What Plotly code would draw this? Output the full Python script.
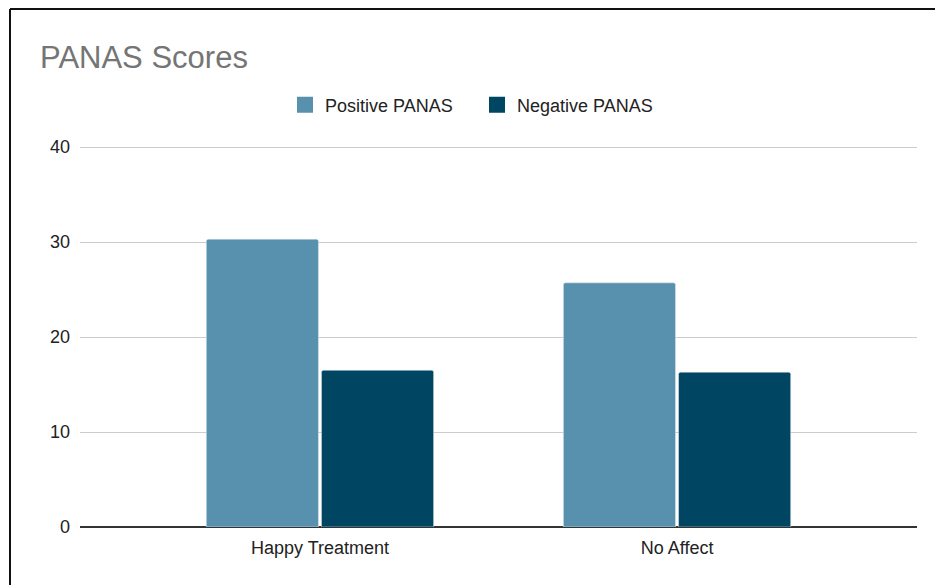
import plotly.graph_objects as go

categories = ["Happy Treatment", "No Affect"]
positive_panas = [30.3, 25.7]
negative_panas = [16.5, 16.3]
y_ticks = [0, 10, 20, 30, 40]

W, H = 935, 585
L, R, T, B = 80, 18, 143, 58
plot_w = W - L - R
plot_h = H - T - B
# keep 40 at y=147 px while leaving room so its gridline is drawn
Y_MAX = 40 * (H - B - T) / (H - B - 147)


def px_x(px):
    return (px - L) / plot_w


def px_y(py):
    return (H - B - py) / plot_h


POS_COLOR = "#5891AD"
NEG_COLOR = "#004561"

fig = go.Figure()
fig.add_trace(go.Bar(
    x=[0, 1], y=positive_panas, name="Positive PANAS", showlegend=False,
    marker=dict(color=POS_COLOR, cornerradius=2),
))
fig.add_trace(go.Bar(
    x=[0, 1], y=negative_panas, name="Negative PANAS", showlegend=False,
    marker=dict(color=NEG_COLOR, cornerradius=2),
))
# legend entries with larger square swatches
for name, color in [("Positive PANAS", POS_COLOR), ("Negative PANAS", NEG_COLOR)]:
    fig.add_trace(go.Scatter(
        x=[None], y=[None], mode="markers", name=name,
        marker=dict(symbol="square", size=18, color=color),
    ))

font_family = "Liberation Sans, Arial, sans-serif"

fig.update_layout(
    width=W, height=H,
    margin=dict(l=L, r=R, t=T, b=B),
    paper_bgcolor="white", plot_bgcolor="white",
    barmode="group", bargap=0.355, bargroupgap=0.026,
    font=dict(family=font_family, size=18, color="#222222"),
    title=dict(text="PANAS Scores", x=40 / W, xanchor="left",
               y=1 - 57 / H, yanchor="middle",
               font=dict(size=31, color="#757575", family=font_family)),
    legend=dict(orientation="h", x=px_x(285), xanchor="left",
                y=px_y(105), yanchor="middle",
                font=dict(size=18, color="#222222"),
                entrywidth=147, entrywidthmode="pixels",
                itemsizing="trace", traceorder="normal"),
    xaxis=dict(tickmode="array", tickvals=[0, 1], ticktext=categories,
               range=[-0.672, 1.672], showgrid=False, zeroline=False,
               showline=False, ticks="", ticklabelstandoff=8,
               tickfont=dict(size=18)),
    yaxis=dict(range=[0, Y_MAX], tickvals=y_ticks, showgrid=True,
               gridcolor="#CCCCCC", gridwidth=1, zeroline=True,
               zerolinecolor="#333333", zerolinewidth=1.5,
               ticks="", ticklabelstandoff=9, tickfont=dict(size=18)),
    shapes=[
        dict(type="line", xref="paper", yref="paper",
             x0=px_x(10), x1=px_x(W + 5), y0=px_y(9), y1=px_y(9),
             line=dict(color="#111111", width=2)),
        dict(type="line", xref="paper", yref="paper",
             x0=px_x(10), x1=px_x(10), y0=px_y(9), y1=px_y(H + 5),
             line=dict(color="#111111", width=2)),
    ],
)

fig.write_html("out.html")
